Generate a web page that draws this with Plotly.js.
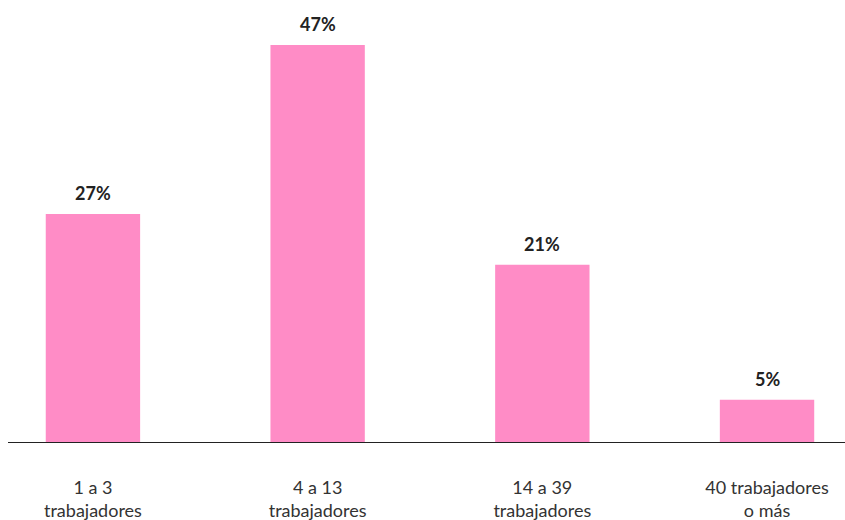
<!DOCTYPE html>
<html><head><meta charset="utf-8">
<script src="https://cdn.plot.ly/plotly-3.0.1.min.js"></script>
<style>html,body{margin:0;padding:0;background:#fff}#c{width:845px;height:520px}</style>
</head><body><div id="c"></div>
<script>
const categories = ["1 a 3<br>trabajadores", "4 a 13<br>trabajadores", "14 a 39<br>trabajadores", "40 trabajadores<br>o más"];
const values = [27, 47, 21, 5];
const valueLabels = ["27%", "47%", "21%", "5%"];

const trace = {
  type: "bar",
  x: categories,
  y: values,
  width: 0.42,
  marker: {color: "#ff8cc6"},
  hoverinfo: "none"
};
const annotations = categories.map((c, i) => ({
  x: c, y: values[i], text: "<b>" + valueLabels[i] + "</b>",
  showarrow: false, yanchor: "bottom", yshift: 8,
  font: {family: "Lato, sans-serif", size: 18, color: "#222"}
}));
Plotly.newPlot("c", [trace], {
  width: 845, height: 520,
  margin: {l: 8, r: 0, t: 0, b: 78},
  paper_bgcolor: "#fff", plot_bgcolor: "#fff",
  showlegend: false,
  xaxis: {
    type: "category", range: [-0.378, 3.347],
    showline: true, linecolor: "#222", linewidth: 1,
    ticks: "outside", ticklen: 29, tickcolor: "rgba(0,0,0,0)",
    tickfont: {family: "Lato, sans-serif", size: 18, color: "#333"},
    showgrid: false, zeroline: false
  },
  yaxis: {range: [0, 52.33], visible: false, showgrid: false, zeroline: false},
  annotations: annotations
}, {displayModeBar: false, staticPlot: true});
</script></body></html>
